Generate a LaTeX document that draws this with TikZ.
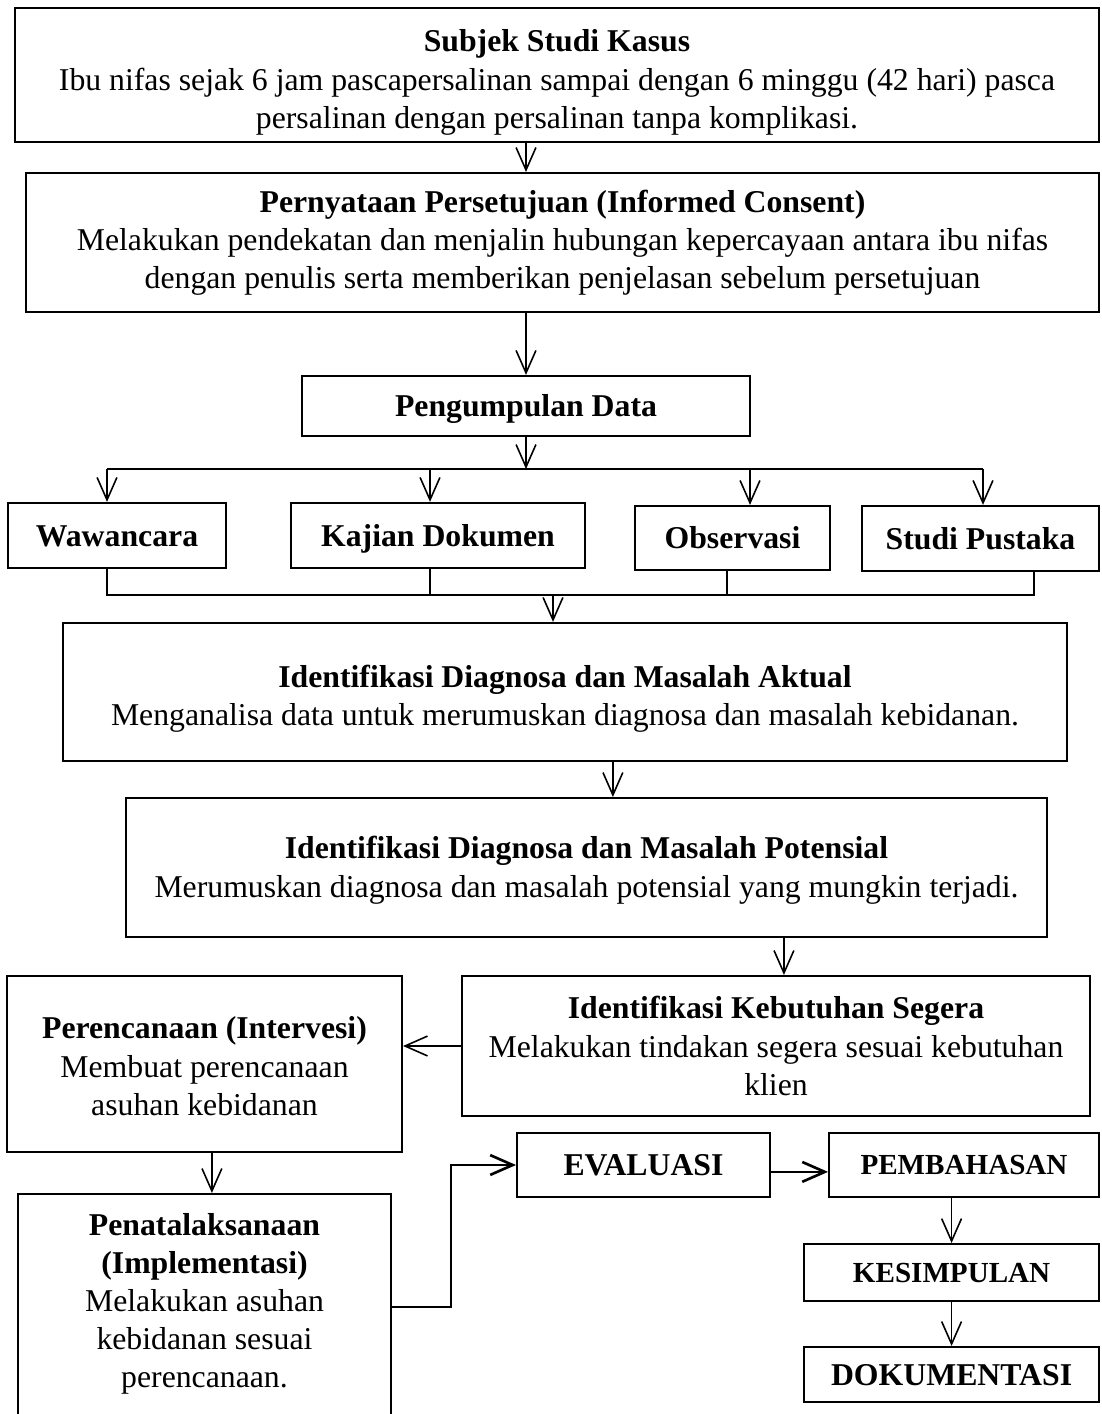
\documentclass[tikz,border=0pt]{standalone}
\usepackage{fontspec}
\setmainfont{Liberation Serif}
\usetikzlibrary{arrows.meta, positioning}
\tikzset{
    flowchart/.style={x=0.378pt, y=-0.378pt, >={Straight Barb[length=8.5pt, width=7.5pt]},
        font=\fontsize{12}{14.4}\selectfont},
    box/.style={draw, line width=0.8pt, align=center, inner sep=2pt},
    boldbox/.style={box, font=\fontsize{12}{14.4}\selectfont\bfseries, text height=8pt, text depth=0pt},
    smallbox/.style={box, font=\fontsize{11}{13.2}\selectfont\bfseries},
    line/.style={line width=0.6pt},
    arrow/.style={line, ->},
    % heavier connectors at the bottom
    heavy/.style={arrow, line width=1pt},
}

\begin{document}
\begin{tikzpicture}[flowchart]
    \useasboundingbox (0,0) rectangle (1101,1414);

    \node[box, minimum width=409.8pt, minimum height=50.7pt] (subjek) at (557,75)
        {\rule{0pt}{14pt}\textbf{Subjek Studi Kasus}\\Ibu nifas sejak 6 jam pascapersalinan sampai dengan 6 minggu (42 hari) pasca\\persalinan dengan persalinan tanpa komplikasi.};
    \node[box, minimum width=405.6pt, minimum height=52.5pt] (consent) at (562.5,242.5)
        {\textbf{Pernyataan Persetujuan (Informed Consent)}\\Melakukan pendekatan dan menjalin hubungan kepercayaan antara ibu nifas\\dengan penulis serta memberikan penjelasan sebelum persetujuan};
    \node[boldbox, minimum width=169.3pt, minimum height=22.7pt] (kumpul) at (526,406) {Pengumpulan Data};

    \node[boldbox, minimum width=82.4pt,  minimum height=24.6pt] (wawan)   at (117,535.5) {Wawancara};
    \node[boldbox, minimum width=111.1pt, minimum height=24.6pt] (kajian)  at (438,535.5) {Kajian Dokumen};
    \node[boldbox, minimum width=73.7pt,  minimum height=24.2pt] (observ)  at (732.5,538) {Observasi};
    \node[boldbox, minimum width=89.6pt,  minimum height=24.6pt] (pustaka) at (980.5,538.5) {Studi Pustaka};

    \node[box, minimum width=379.5pt, minimum height=52.2pt] (aktual) at (565,692)
        {\rule{0pt}{13.4pt}\textbf{Identifikasi Diagnosa dan Masalah Aktual}\\Menganalisa data untuk merumuskan diagnosa dan masalah kebidanan.};
    \node[box, minimum width=348.1pt, minimum height=52.5pt] (potensi) at (586.5,867.5)
        {\rule{0pt}{10.5pt}\textbf{Identifikasi Diagnosa dan Masalah Potensial}\\Merumuskan diagnosa dan masalah potensial yang mungkin terjadi.};

    \node[box, minimum width=237.4pt, minimum height=52.9pt] (segera) at (776,1046)
        {\textbf{Identifikasi Kebutuhan Segera}\\Melakukan tindakan segera sesuai kebutuhan\\klien};
    \node[box, minimum width=149.3pt, minimum height=66.5pt] (rencana) at (204.5,1064)
        {\rule{0pt}{10pt}\textbf{Perencanaan (Intervesi)}\\Membuat perencanaan\\asuhan kebidanan};
    \node[box, minimum width=141pt, inner ysep=7.3pt, below=15.1pt of rencana] (laksana)
        {\textbf{Penatalaksanaan}\\\textbf{(Implementasi)}\\Melakukan asuhan\\kebidanan sesuai\\perencanaan.\\[40pt]\mbox{}};

    \node[boldbox, minimum width=95.6pt, minimum height=24.2pt] (evaluasi) at (643.5,1165) {EVALUASI};
    \node[smallbox, minimum width=102pt, minimum height=24.2pt] (pembahasan) at (964,1165) {PEMBAHASAN};
    \node[smallbox, minimum width=111.5pt, minimum height=21.5pt, below=17pt of pembahasan, xshift=-4.7pt] (kesimpulan) {KESIMPULAN};
    \node[boldbox, minimum width=111.5pt, minimum height=20.8pt, below=16.6pt of kesimpulan] (dokumentasi) {DOKUMENTASI};

    \coordinate (top1) at (107,469);
    \coordinate (top2) at (430,469);
    \coordinate (top3) at (750,469);
    \coordinate (top4) at (983,469);
    \coordinate (bot1) at (107,595);
    \coordinate (bot2) at (430,595);
    \coordinate (bot3) at (727,595);
    \coordinate (bot4) at (1034,595);
    \coordinate (busmid) at (553,595);
    \coordinate (bend) at (451,1307);

    \draw[arrow] (subjek.south -| kumpul) -- (consent.north -| kumpul);
    \draw[arrow] (consent.south -| kumpul) -- (kumpul);
    \draw[arrow] (kumpul) -- (kumpul |- top1);

    \draw[line] (top1) -- (top4);
    \draw[arrow] (top1) -- (top1 |- wawan.north);
    \draw[arrow] (top2) -- (top2 |- kajian.north);
    \draw[arrow] (top3) -- (top3 |- observ.north);
    \draw[arrow] (top4) -- (top4 |- pustaka.north);

    \draw[line] (bot1 |- wawan.south) -- (bot1) -- (bot4) -- (bot4 |- pustaka.south);
    \draw[line] (bot2 |- kajian.south) -- (bot2);
    \draw[line] (bot3 |- observ.south) -- (bot3);
    \draw[arrow] (busmid) -- (busmid |- aktual.north);

    \draw[arrow] ([xshift=18.1pt]aktual.south) -- ([xshift=18.1pt]aktual.south |- potensi.north);
    \draw[arrow] ([xshift=3pt]segera.north |- potensi.south) -- ([xshift=3pt]segera.north);
    \draw[arrow] (segera.west) -- (segera.west -| rencana.east);
    \draw[arrow] ([xshift=2.8pt]rencana.south) -- ([xshift=2.8pt]laksana.north);

    \draw[heavy] (laksana.east |- bend) -- (bend) |- (evaluasi);
    \draw[heavy] ([yshift=-2.6pt]evaluasi.east) -- ([yshift=-2.6pt]pembahasan.west);
    \draw[arrow] (pembahasan.south -| kesimpulan) -- (kesimpulan);
    \draw[arrow] (kesimpulan) -- (dokumentasi);
\end{tikzpicture}
\end{document}
